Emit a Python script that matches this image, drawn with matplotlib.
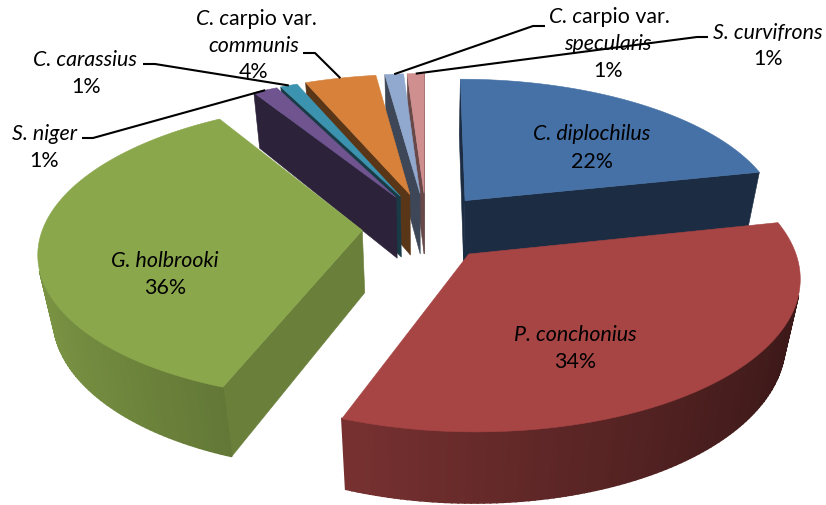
import numpy as np
import matplotlib
matplotlib.use('Agg')
import matplotlib.pyplot as plt
from matplotlib.patches import Polygon

plt.rcParams['font.family'] = ['Lato', 'DejaVu Sans']

# Slices, clockwise from 12 o'clock
values = [21.6, 34.15, 35.5, 1.45, 1.0, 4.2, 1.1, 1.0]
top_colors = ['#4571A7', '#A74444', '#8AA74C', '#6F5490', '#3C93AF', '#D7813A', '#92A9CF', '#CF8F8F']
radial_dark = [0.40, 0.40, 0.76, 0.40, 0.40, 0.42, 0.42, 0.50]
draw_order = [7, 6, 5, 4, 3, 0, 2, 1]

# Projection of the tilted pie
center_x, center_y = 426, 228
radius_x, radius_y = 319, 145
perspective = 0.1385
depth_drop = 0.04
thickness = 66
explode_x, explode_y = 0.2, 0.24


def project(x, y, z=0.0):
    s = 1 / (1 + perspective * y + depth_drop * z)
    return center_x + radius_x * x * s, center_y - radius_y * y * s + thickness * z * s ** 1.5


def shade(color, f):
    return tuple(c * f for c in matplotlib.colors.to_rgb(color))


def signed_area(pts):
    pts = np.array(pts)
    return 0.5 * np.sum(pts[:, 0] * np.roll(pts[:, 1], -1) - np.roll(pts[:, 0], -1) * pts[:, 1])


def add_face(ax, pts, color, lw=0.4):
    ax.add_patch(Polygon(pts, closed=True, facecolor=color, edgecolor=color, linewidth=lw))


fig = plt.figure(figsize=(8.26, 5.06), dpi=100)
ax = fig.add_axes([0, 0, 1, 1])
ax.set_xlim(0, 826)
ax.set_ylim(506, 0)
ax.axis('off')

# Angles of each slice
fractions = np.array(values) / sum(values)
ends = 90 - 360 * np.cumsum(fractions)
starts = np.concatenate([[90], ends[:-1]])
rim_mids = {}

for i in draw_order:
    mid = np.radians((starts[i] + ends[i]) / 2)
    ox, oy = explode_x * np.cos(mid), explode_y * np.sin(mid)
    t = np.radians(np.linspace(starts[i], ends[i], max(6, int(abs(ends[i] - starts[i]) / 1.0))))
    rim_x, rim_y = ox + np.cos(t), oy + np.sin(t)
    rim_top = [project(x, y) for x, y in zip(rim_x, rim_y)]
    rim_bot = [project(x, y, 1) for x, y in zip(rim_x, rim_y)]
    rim_mids[i] = project(ox + np.cos(mid), oy + np.sin(mid))
    apex_top, apex_bot = project(ox, oy), project(ox, oy, 1)
    color = top_colors[i]
    # radial walls, only the ones facing the viewer
    wall_a = [apex_top, rim_top[0], rim_bot[0], apex_bot]
    wall_b = [rim_top[-1], apex_top, apex_bot, rim_bot[-1]]
    for wall in (wall_a, wall_b):
        if signed_area(wall) < 0:
            add_face(ax, wall, shade(color, radial_dark[i]))
    # outer wall in narrow strips so the shade can run along it
    for j in range(len(t) - 1):
        strip = [rim_top[j], rim_top[j + 1], rim_bot[j + 1], rim_bot[j]]
        if signed_area(strip) < 0:
            f = 0.62 - 0.27 * np.cos((t[j] + t[j + 1]) / 2)
            add_face(ax, strip, shade(color, f), lw=1.2)
    add_face(ax, [apex_top] + rim_top, color)

# Leader lines: label end, elbow, then the slice rim
leader_starts = {3: [(82, 139), (93, 139)], 4: [(143, 65), (155, 65)], 5: [(303, 54), (315, 54)],
                 6: [(545, 27), (533, 27)], 7: [(708, 38), (697, 38)]}
for i, pts in leader_starts.items():
    xs = [p[0] for p in pts] + [rim_mids[i][0]]
    ys = [p[1] for p in pts] + [rim_mids[i][1]]
    ax.plot(xs, ys, color='black', lw=1.5, solid_capstyle='butt', zorder=5)

fs = 15.4


def label(x, y, s, style='normal'):
    return ax.text(x, y, s, ha='center', va='center', fontsize=fs, style=style, color='black', zorder=6)


def pct(i):
    return f'{round(values[i])}%'


def carpio_line(x, y):
    # first line of the carpio labels is partly italic
    t1 = ax.text(x, y, 'C. c', ha='left', va='center', fontsize=fs, style='italic', zorder=6)
    ax.annotate('arpio var.', xy=(1, 0), xycoords=t1, ha='left', va='bottom', fontsize=fs, zorder=6)


label(592, 134, 'C. diplochilus', 'italic')
label(592, 162, pct(0))
label(575, 335, 'P. conchonius', 'italic')
label(575, 362, pct(1))
label(165, 261, 'G. holbrooki', 'italic')
label(165, 288, pct(2))
label(44, 134, 'S. niger', 'italic')
label(44, 161, pct(3))
label(85, 60, 'C. carassius', 'italic')
label(86, 87, pct(4))
carpio_line(196, 19)
label(254, 46, 'communis', 'italic')
label(254, 72, pct(5))
carpio_line(549, 17)
label(608, 44, 'specularis', 'italic')
label(608, 71, pct(6))
label(768, 33, 'S. curvifrons', 'italic')
label(768, 59, pct(7))

fig.savefig('out.png', dpi=100)
